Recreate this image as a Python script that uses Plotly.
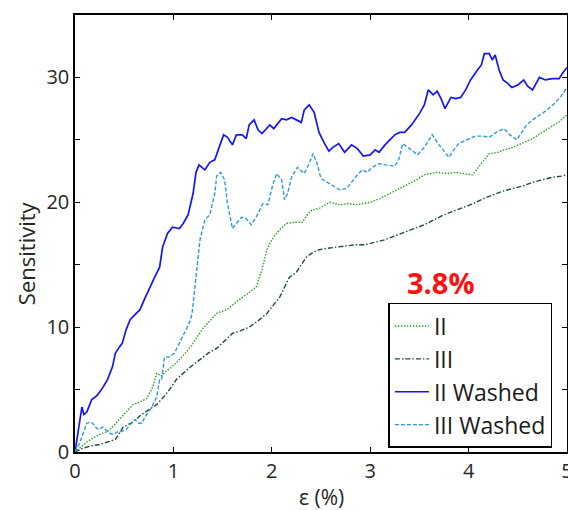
import plotly.graph_objects as go

# ---- data (strain %, sensitivity) ----
ii_x = [0, 0.06, 0.12, 0.2, 0.27, 0.32, 0.38, 0.45, 0.52, 0.59, 0.66, 0.73, 0.79, 0.83, 0.88, 0.93, 0.98, 1.05, 1.12, 1.2, 1.25, 1.3, 1.37, 1.44, 1.54, 1.6, 1.67, 1.74, 1.84, 1.9, 1.95, 2.0, 2.08, 2.15, 2.23, 2.31, 2.36, 2.41, 2.48, 2.59, 2.69, 2.78, 2.86, 2.93, 3.0, 3.1, 3.2, 3.3, 3.4, 3.47, 3.55, 3.68, 3.78, 3.87, 3.95, 4.04, 4.1, 4.21, 4.3, 4.36, 4.45, 4.54, 4.65, 4.75, 4.85, 4.93, 5.0]
ii_y = [0, 0.4, 0.8, 1.2, 1.5, 1.6, 2.0, 2.6, 3.2, 3.8, 4.0, 4.3, 5.2, 6.3, 6.1, 6.5, 6.8, 7.3, 7.9, 8.7, 9.3, 9.9, 10.5, 11.1, 11.4, 11.8, 12.2, 12.6, 13.2, 14.6, 16.2, 17.0, 17.8, 18.3, 18.4, 18.4, 19.0, 19.4, 19.5, 20.0, 19.8, 19.9, 19.8, 19.9, 20.0, 20.3, 20.7, 21.1, 21.5, 21.8, 22.2, 22.4, 22.3, 22.4, 22.3, 22.2, 22.8, 23.9, 24.0, 24.2, 24.4, 24.7, 25.1, 25.6, 26.1, 26.5, 27.0]

iii_x = [0, 0.08, 0.17, 0.25, 0.33, 0.41, 0.45, 0.49, 0.54, 0.59, 0.66, 0.74, 0.83, 0.9, 0.96, 1.03, 1.1, 1.17, 1.27, 1.35, 1.44, 1.52, 1.6, 1.68, 1.77, 1.86, 1.95, 2.02, 2.08, 2.13, 2.18, 2.25, 2.3, 2.35, 2.42, 2.48, 2.55, 2.65, 2.75, 2.85, 2.95, 3.05, 3.15, 3.25, 3.35, 3.45, 3.55, 3.65, 3.75, 3.85, 3.95, 4.05, 4.15, 4.25, 4.35, 4.45, 4.55, 4.65, 4.75, 4.85, 4.95, 5.0]
iii_y = [0, 0.3, 0.5, 0.6, 0.8, 1.0, 1.5, 2.0, 2.2, 2.4, 2.9, 3.3, 3.8, 4.4, 5.0, 5.8, 6.3, 6.8, 7.4, 7.9, 8.3, 8.9, 9.5, 9.7, 10.0, 10.5, 11.1, 11.8, 12.4, 13.2, 14.0, 14.4, 15.0, 15.6, 16.0, 16.2, 16.3, 16.4, 16.5, 16.6, 16.6, 16.8, 17.0, 17.3, 17.6, 17.9, 18.2, 18.6, 19.0, 19.3, 19.6, 19.9, 20.3, 20.6, 20.9, 21.1, 21.3, 21.6, 21.8, 22.0, 22.1, 22.2]

ii_washed_x = [0, 0.03, 0.05, 0.07, 0.09, 0.12, 0.17, 0.22, 0.27, 0.33, 0.38, 0.41, 0.45, 0.48, 0.52, 0.56, 0.61, 0.66, 0.71, 0.76, 0.81, 0.86, 0.89, 0.94, 0.99, 1.06, 1.1, 1.15, 1.2, 1.23, 1.26, 1.32, 1.37, 1.42, 1.47, 1.51, 1.55, 1.6, 1.64, 1.7, 1.74, 1.77, 1.82, 1.86, 1.9, 1.98, 2.02, 2.1, 2.15, 2.2, 2.25, 2.3, 2.33, 2.38, 2.43, 2.48, 2.53, 2.58, 2.62, 2.68, 2.74, 2.81, 2.87, 2.93, 3.0, 3.05, 3.09, 3.15, 3.25, 3.3, 3.35, 3.42, 3.5, 3.55, 3.59, 3.64, 3.68, 3.72, 3.76, 3.82, 3.87, 3.92, 3.97, 4.02, 4.09, 4.13, 4.16, 4.21, 4.24, 4.27, 4.31, 4.35, 4.4, 4.44, 4.5, 4.56, 4.6, 4.65, 4.72, 4.78, 4.85, 4.92, 4.96, 5.0]
ii_washed_y = [0, 1.5, 2.8, 3.6, 3.0, 3.2, 4.2, 4.5, 5.0, 5.8, 6.8, 7.9, 8.4, 8.7, 9.8, 10.6, 11.0, 11.4, 12.3, 13.2, 14.0, 14.8, 16.4, 17.5, 18.0, 17.9, 18.3, 19.0, 20.7, 22.4, 23.0, 22.6, 23.2, 23.4, 24.6, 25.4, 25.2, 24.6, 25.4, 25.4, 25.1, 26.2, 26.6, 25.8, 25.5, 26.2, 25.9, 26.7, 26.6, 26.8, 26.6, 26.4, 27.4, 27.8, 27.2, 25.6, 24.8, 24.1, 24.4, 24.7, 24.0, 24.6, 24.3, 23.7, 23.8, 24.2, 24.0, 24.6, 25.4, 25.6, 25.6, 26.2, 27.1, 27.8, 29.0, 28.6, 28.9, 28.3, 27.5, 28.4, 28.3, 28.4, 29.0, 29.8, 30.6, 31.0, 31.9, 31.9, 31.4, 31.8, 30.6, 29.8, 29.5, 29.2, 29.4, 29.8, 29.3, 29.0, 30.0, 29.8, 29.9, 29.9, 30.4, 30.8]

iii_washed_x = [0, 0.04, 0.07, 0.1, 0.12, 0.16, 0.19, 0.22, 0.24, 0.28, 0.31, 0.35, 0.39, 0.43, 0.46, 0.5, 0.52, 0.56, 0.61, 0.65, 0.68, 0.71, 0.74, 0.78, 0.83, 0.86, 0.88, 0.91, 0.95, 1.01, 1.05, 1.09, 1.13, 1.17, 1.19, 1.21, 1.22, 1.25, 1.27, 1.32, 1.37, 1.42, 1.44, 1.48, 1.52, 1.55, 1.6, 1.65, 1.69, 1.74, 1.79, 1.84, 1.91, 1.96, 2.01, 2.05, 2.1, 2.13, 2.16, 2.2, 2.26, 2.33, 2.38, 2.42, 2.46, 2.5, 2.59, 2.69, 2.76, 2.81, 2.87, 2.92, 2.97, 3.02, 3.09, 3.15, 3.25, 3.29, 3.33, 3.4, 3.48, 3.55, 3.63, 3.7, 3.8, 3.85, 3.9, 3.98, 4.07, 4.14, 4.21, 4.28, 4.36, 4.42, 4.49, 4.54, 4.59, 4.65, 4.72, 4.8, 4.87, 4.94, 5.0]
iii_washed_y = [0, 0.6, 1.2, 1.9, 2.3, 2.4, 2.2, 1.9, 1.8, 2.0, 1.8, 1.5, 1.4, 1.6, 1.6, 1.7, 1.8, 2.2, 2.6, 2.3, 2.3, 2.8, 3.1, 3.6, 4.4, 5.8, 5.8, 7.6, 7.6, 7.9, 8.6, 9.2, 9.8, 10.5, 11.1, 12.6, 13.8, 15.6, 17.0, 18.6, 19.0, 20.7, 22.1, 22.4, 21.8, 19.9, 17.9, 18.4, 18.8, 18.7, 18.2, 18.8, 19.9, 19.8, 21.4, 22.3, 21.8, 20.2, 20.7, 22.0, 22.8, 22.3, 23.1, 23.9, 23.1, 21.9, 21.5, 21.0, 21.1, 21.6, 22.2, 22.6, 22.4, 22.8, 23.1, 23.0, 22.9, 23.4, 24.7, 24.3, 23.8, 24.4, 25.4, 24.6, 23.6, 24.2, 24.7, 25.0, 25.3, 25.3, 25.2, 25.6, 25.9, 25.4, 25.0, 25.6, 26.2, 26.6, 27.0, 27.4, 27.9, 28.5, 29.2]

x_ticks = [0, 1, 2, 3, 4, 5]
y_ticks = [0, 10, 20, 30]
y_minor = [5, 15, 25, 35]
FONT = "Open Sans"
TXT = "#262626"

fig = go.Figure()
series = [
    ("II", ii_x, ii_y, "#2ca02c", "1.5px,1.5px", 1.4),
    ("III", iii_x, iii_y, "#1f4d35", "5px,2px,1.5px,2px", 1.4),
    ("II Washed", ii_washed_x, ii_washed_y, "#1515f5", "solid", 1.7),
    ("III Washed", iii_washed_x, iii_washed_y, "#2e9bd9", "4px,2px", 1.4),
]
for name, xs, ys, col, dash, w in series:
    fig.add_trace(go.Scatter(x=xs, y=ys, mode="lines", name=name,
                             line=dict(color=col, dash=dash, width=w)))

axis_common = dict(showline=True, linecolor="black", linewidth=1.5, mirror="ticks",
                   ticks="inside", ticklen=5, tickcolor="black", tickwidth=1,
                   showgrid=False, zeroline=False, ticklabeloverflow="allow",
                   automargin=False,
                   tickfont=dict(family=FONT, size=20, color=TXT))

fig.update_xaxes(range=[0, 5], tickvals=x_ticks, **axis_common)
fig.update_yaxes(range=[0, 35], tickvals=y_ticks,
                 minor=dict(tickvals=y_minor, ticks="inside", ticklen=5, tickcolor="black"),
                 **axis_common)

# axis titles as annotations (placed like the reference)
fig.add_annotation(x=0.501, y=-0.104, xref="paper", yref="paper", text="ε (%)",
                   showarrow=False, xanchor="center", yanchor="middle",
                   font=dict(family=FONT, size=21, color=TXT))
fig.add_annotation(x=-0.0996, y=0.455, xref="paper", yref="paper", text="Sensitivity",
                   showarrow=False, textangle=-90, xanchor="center", yanchor="middle",
                   font=dict(family=FONT, size=22, color=TXT))

fig.add_annotation(x=0.744, y=0.387, xref="paper", yref="paper", text="<b>3.8%</b>",
                   showarrow=False, xanchor="center", yanchor="middle",
                   font=dict(family=FONT, size=29, color="#ff1010"))

fig.update_layout(
    width=568, height=510,
    margin=dict(l=75, r=1, t=15, b=58),
    plot_bgcolor="white", paper_bgcolor="white",
    legend=dict(x=0.637, y=0.341, xanchor="left", yanchor="top",
                bordercolor="black", borderwidth=1.5, bgcolor="white",
                itemwidth=34,
                font=dict(family=FONT, size=23, color="#1a1a1a")),
)

fig.write_html("out.html")
